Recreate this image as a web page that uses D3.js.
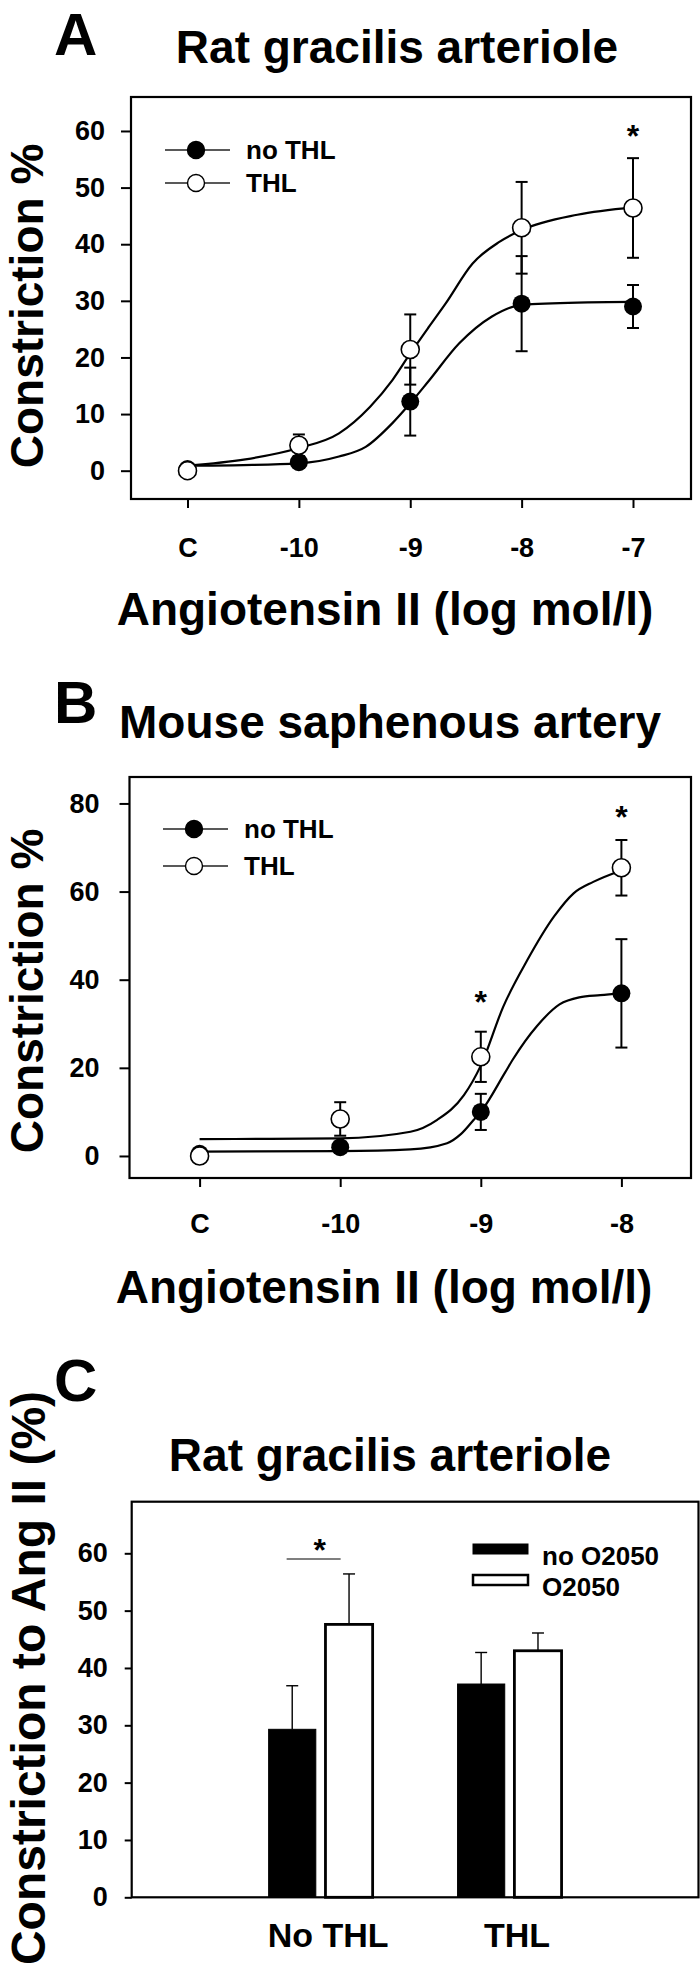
<!DOCTYPE html>
<html>
<head>
<meta charset="utf-8">
<script src="https://cdn.jsdelivr.net/npm/d3@7/dist/d3.min.js"></script>
<style>
  body { margin: 0; background: #fff; }
  svg { display: block; }
  text { font-family: "Liberation Sans", Arial, Helvetica, sans-serif; font-weight: bold; fill: #000; }
</style>
</head>
<body>
<svg id="chart" width="700" height="1985"></svg>
<script>
// ---------------- DATA ----------------
// Panel A: Rat gracilis arteriole
const doseLabelsA = ["C", "-10", "-9", "-8", "-7"];
const yTicksA = [0, 10, 20, 30, 40, 50, 60];
const noTHL_A = [0.3, 1.5, 12.2, 29.5, 29.0];
const noTHL_A_se = [0, 0.8, 6.0, 8.4, 3.8];
const THL_A = [0, 4.5, 21.4, 42.9, 46.4];
const THL_A_se = [0, 1.9, 6.2, 8.1, 8.8];
// fitted curves (dose position, value)
const fitA_noTHL_x = [0, 0.5, 1, 1.36, 1.6, 1.84, 2, 2.16, 2.44, 2.73, 3, 3.5, 4];
const fitA_noTHL_y = [0.9, 1.0, 1.3, 2.5, 4.2, 8.4, 11.9, 15.7, 22.5, 27.2, 29.3, 29.7, 29.8];
const fitA_THL_x = [0, 0.52, 1, 1.36, 1.64, 1.84, 2, 2.16, 2.32, 2.56, 2.8, 3, 3.5, 4];
const fitA_THL_y = [0.9, 2.0, 4.0, 6.6, 11.3, 16.0, 20.7, 25.2, 29.6, 36.6, 40.4, 42.5, 45.2, 46.5];
const starsA = [4];

// Panel B: Mouse saphenous artery
const doseLabelsB = ["C", "-10", "-9", "-8"];
const yTicksB = [0, 20, 40, 60, 80];
const noTHL_B = [0.5, 2.0, 10.0, 36.9];
const noTHL_B_se = [0, 1.0, 4.1, 12.3];
const THL_B = [0, 8.4, 22.5, 65.4];
const THL_B_se = [0, 3.8, 5.7, 6.3];
const fitB_noTHL_x = [0, 1, 1.5, 1.76, 1.86, 1.95, 2, 2.17, 2.23, 2.4, 2.56, 2.7, 2.85, 3];
const fitB_noTHL_y = [1.0, 1.1, 1.5, 2.9, 5.0, 8.2, 10.0, 18.8, 22.0, 29.5, 34.4, 36.0, 36.5, 36.9];
const fitB_THL_x = [0, 0.5, 1, 1.5, 1.69, 1.88, 2, 2.16, 2.33, 2.52, 2.66, 2.8, 3];
const fitB_THL_y = [3.8, 3.9, 4.0, 5.5, 8.2, 13.8, 20.5, 33.9, 44.4, 54.3, 59.6, 62.2, 64.8];
const starsB = [2, 3];

// Panel C: Rat gracilis arteriole bars
const groupsC = ["No THL", "THL"];
const seriesC = ["no O2050", "O2050"];
const noO2050_C = [29.3, 37.2];
const noO2050_C_se = [7.6, 5.5];
const O2050_C = [47.6, 43.0];
const O2050_C_se = [8.8, 3.1];
const yTicksC = [0, 10, 20, 30, 40, 50, 60];

// ---------------- DRAW ----------------
const svg = d3.select("#chart");
const FS_TICK = 27;

function curvePanel(cfg) {
  const g = svg.append("g");
  const x = d3.scaleLinear().domain([0, cfg.labels.length - 1]).range(cfg.xr);
  const y = d3.scaleLinear().domain(cfg.ydom).range([cfg.box.b, cfg.box.t]);

  // panel letter and title
  g.append("text").attr("x", 54).attr("y", cfg.letterY).attr("font-size", 60).text(cfg.letter);
  g.append("text").attr("x", cfg.titleX).attr("y", cfg.titleY).attr("text-anchor", "middle")
    .attr("font-size", 46).text(cfg.title);

  // y axis
  const ya = g.append("g").attr("transform", `translate(${cfg.box.l},0)`)
    .call(d3.axisLeft(y).tickValues(cfg.yticks).tickSize(10).tickSizeOuter(0).tickPadding(cfg.yPad));
  ya.select(".domain").remove();
  ya.selectAll("line").attr("stroke", "#000").attr("stroke-width", 2);
  ya.selectAll("text").attr("font-size", FS_TICK).attr("font-family", null);

  // x axis
  const xa = g.append("g").attr("transform", `translate(0,${cfg.box.b})`)
    .call(d3.axisBottom(x).tickValues(d3.range(cfg.labels.length)).tickFormat(i => cfg.labels[i]).tickSize(9).tickSizeOuter(0));
  xa.select(".domain").remove();
  xa.selectAll("line").attr("stroke", "#000").attr("stroke-width", 2);
  xa.selectAll("text").attr("font-size", FS_TICK).attr("font-family", null).attr("dy", null).attr("y", cfg.xLabY);

  // frame
  g.append("rect").attr("x", cfg.box.l).attr("y", cfg.box.t)
    .attr("width", cfg.box.r - cfg.box.l).attr("height", cfg.box.b - cfg.box.t)
    .attr("fill", "none").attr("stroke", "#000").attr("stroke-width", 2.2);

  // axis titles
  g.append("text").attr("x", cfg.xTitleX).attr("y", cfg.xTitleY).attr("text-anchor", "middle")
    .attr("font-size", 46).text("Angiotensin II (log mol/l)");
  g.append("text").attr("transform", `translate(${cfg.yTitleX},${cfg.yTitleY}) rotate(-90)`)
    .attr("text-anchor", "middle").attr("font-size", 46).text("Constriction %");

  // fitted curves
  const line = d3.line().x(d => x(d[0])).y(d => y(d[1])).curve(d3.curveMonotoneX);
  [[cfg.fitNx, cfg.fitNy], [cfg.fitTx, cfg.fitTy]].forEach(([xs, ys]) => {
    g.append("path").datum(xs.map((v, i) => [v, ys[i]]))
      .attr("d", line).attr("fill", "none").attr("stroke", "#000").attr("stroke-width", 2.2);
  });

  // error bars
  const cap = 6;
  [[cfg.n, cfg.nse], [cfg.t, cfg.tse]].forEach(([m, se]) => {
    m.forEach((v, i) => {
      if (!se[i]) return;
      const cx = x(i), y1 = y(v + se[i]), y2 = y(v - se[i]);
      g.append("line").attr("x1", cx).attr("x2", cx).attr("y1", y1).attr("y2", y2)
        .attr("stroke", "#000").attr("stroke-width", 2);
      [y1, y2].forEach(yy => g.append("line").attr("x1", cx - cap).attr("x2", cx + cap)
        .attr("y1", yy).attr("y2", yy).attr("stroke", "#000").attr("stroke-width", 2));
    });
  });

  // points
  g.selectAll(null).data(cfg.n).join("circle")
    .attr("cx", (d, i) => x(i)).attr("cy", d => y(d)).attr("r", 9).attr("fill", "#000");
  g.selectAll(null).data(cfg.t).join("circle")
    .attr("cx", (d, i) => x(i)).attr("cy", d => y(d)).attr("r", 9)
    .attr("fill", "#fff").attr("stroke", "#000").attr("stroke-width", 1.6);

  // stars
  cfg.stars.forEach((s, k) => {
    g.append("text").attr("x", x(s)).attr("y", cfg.starY[k] + 18).attr("text-anchor", "middle")
      .attr("font-size", 32).text("*");
  });

  // legend
  const leg = [["no THL", true], ["THL", false]];
  leg.forEach(([lab, filled], k) => {
    const ly = cfg.legY[k];
    g.append("line").attr("x1", cfg.legX).attr("x2", cfg.legX + 65).attr("y1", ly).attr("y2", ly)
      .attr("stroke", "#222").attr("stroke-width", 1.4);
    g.append("circle").attr("cx", cfg.legX + 31).attr("cy", ly).attr("r", 8.5)
      .attr("fill", filled ? "#000" : "#fff").attr("stroke", "#000").attr("stroke-width", 1.4);
    g.append("text").attr("x", cfg.legX + 81).attr("y", ly + 9).attr("font-size", 26).text(lab);
  });
}

curvePanel({
  letter: "A", letterY: 55, title: "Rat gracilis arteriole", titleX: 397, titleY: 63,
  labels: doseLabelsA, yticks: yTicksA, xr: [187.5, 633], ydom: [-5, 66],
  box: { l: 131, t: 97, r: 691, b: 499 }, yPad: 16, xLabY: 58,
  xTitleX: 385, xTitleY: 625, yTitleX: 43, yTitleY: 306,
  n: noTHL_A, nse: noTHL_A_se, t: THL_A, tse: THL_A_se,
  fitNx: fitA_noTHL_x, fitNy: fitA_noTHL_y, fitTx: fitA_THL_x, fitTy: fitA_THL_y,
  stars: starsA, starY: [129], legX: 165, legY: [150, 183]
});

curvePanel({
  letter: "B", letterY: 723, title: "Mouse saphenous artery", titleX: 390, titleY: 738,
  labels: doseLabelsB, yticks: yTicksB, xr: [199.6, 621.4], ydom: [-5, 86],
  box: { l: 129.5, t: 777, r: 691, b: 1178 }, yPad: 20, xLabY: 55,
  xTitleX: 384, xTitleY: 1303, yTitleX: 43, yTitleY: 991,
  n: noTHL_B, nse: noTHL_B_se, t: THL_B, tse: THL_B_se,
  fitNx: fitB_noTHL_x, fitNy: fitB_noTHL_y, fitTx: fitB_THL_x, fitTy: fitB_THL_y,
  stars: starsB, starY: [995, 810], legX: 163, legY: [829, 866]
});

// ---------- Panel C ----------
(function () {
  const g = svg.append("g");
  const box = { l: 131.7, t: 1501.7, r: 698.5, b: 1897.3 };
  const x0 = d3.scalePoint().domain(groupsC).range([box.l, box.r]).padding(1);
  const x1 = d3.scaleBand().domain(seriesC).range([-52, 52]).paddingInner(0.17);
  const y = d3.scaleLinear().domain([0, 69]).range([box.b, box.t]);
  const vals = [noO2050_C, O2050_C], ses = [noO2050_C_se, O2050_C_se];

  g.append("text").attr("x", 54).attr("y", 1401).attr("font-size", 60).text("C");
  g.append("text").attr("x", 390).attr("y", 1471).attr("text-anchor", "middle")
    .attr("font-size", 46).text("Rat gracilis arteriole");

  const ya = g.append("g").attr("transform", `translate(${box.l},0)`)
    .call(d3.axisLeft(y).tickValues(yTicksC).tickSize(7).tickSizeOuter(0).tickPadding(17));
  ya.select(".domain").remove();
  ya.selectAll("line").attr("stroke", "#000").attr("stroke-width", 2);
  ya.selectAll("text").attr("font-size", FS_TICK).attr("font-family", null);

  const xa = g.append("g").attr("transform", `translate(0,${box.b})`)
    .call(d3.axisBottom(x0).tickSize(0).tickSizeOuter(0));
  xa.select(".domain").remove();
  xa.selectAll("text").attr("font-size", 34).attr("font-family", null)
    .attr("dy", null).attr("y", 50).attr("x", 7);

  // bars
  groupsC.forEach((grp, gi) => {
    seriesC.forEach((s, si) => {
      const bx = x0(grp) + x1(s), bw = x1.bandwidth(), v = vals[si][gi];
      g.append("rect").attr("x", bx).attr("y", y(v)).attr("width", bw).attr("height", y(0) - y(v))
        .attr("fill", si === 0 ? "#000" : "#fff").attr("stroke", "#000").attr("stroke-width", si === 0 ? 1 : 2.8);
      const cx = bx + bw / 2, ytop = y(v + ses[si][gi]);
      g.append("line").attr("x1", cx).attr("x2", cx).attr("y1", y(v)).attr("y2", ytop)
        .attr("stroke", "#000").attr("stroke-width", 1.4);
      g.append("line").attr("x1", cx - 6).attr("x2", cx + 6).attr("y1", ytop).attr("y2", ytop)
        .attr("stroke", "#000").attr("stroke-width", 1.4);
    });
  });

  // frame
  g.append("rect").attr("x", box.l).attr("y", box.t).attr("width", box.r - box.l).attr("height", box.b - box.t)
    .attr("fill", "none").attr("stroke", "#000").attr("stroke-width", 2.2);

  // significance
  const gx = x0(groupsC[0]);
  g.append("line").attr("x1", gx - 34).attr("x2", gx + 20).attr("y1", 1559).attr("y2", 1559)
    .attr("stroke", "#000").attr("stroke-width", 1.2);
  g.append("text").attr("x", gx - 1).attr("y", 1543 + 18).attr("text-anchor", "middle")
    .attr("font-size", 32).text("*");

  // legend
  const legY = [1549, 1580];
  seriesC.forEach((s, k) => {
    g.append("rect").attr("x", 473).attr("y", legY[k] - 5).attr("width", 55).attr("height", 10)
      .attr("fill", k === 0 ? "#000" : "#fff").attr("stroke", "#000").attr("stroke-width", k === 0 ? 1 : 2.5);
    g.append("text").attr("x", 542).attr("y", legY[k] + 16).attr("font-size", 26).text(s);
  });

  // y title
  g.append("text").attr("transform", `translate(45,1678) rotate(-90)`)
    .attr("text-anchor", "middle").attr("font-size", 48).text("Constriction to Ang II (%)");
})();
</script>
</body>
</html>
